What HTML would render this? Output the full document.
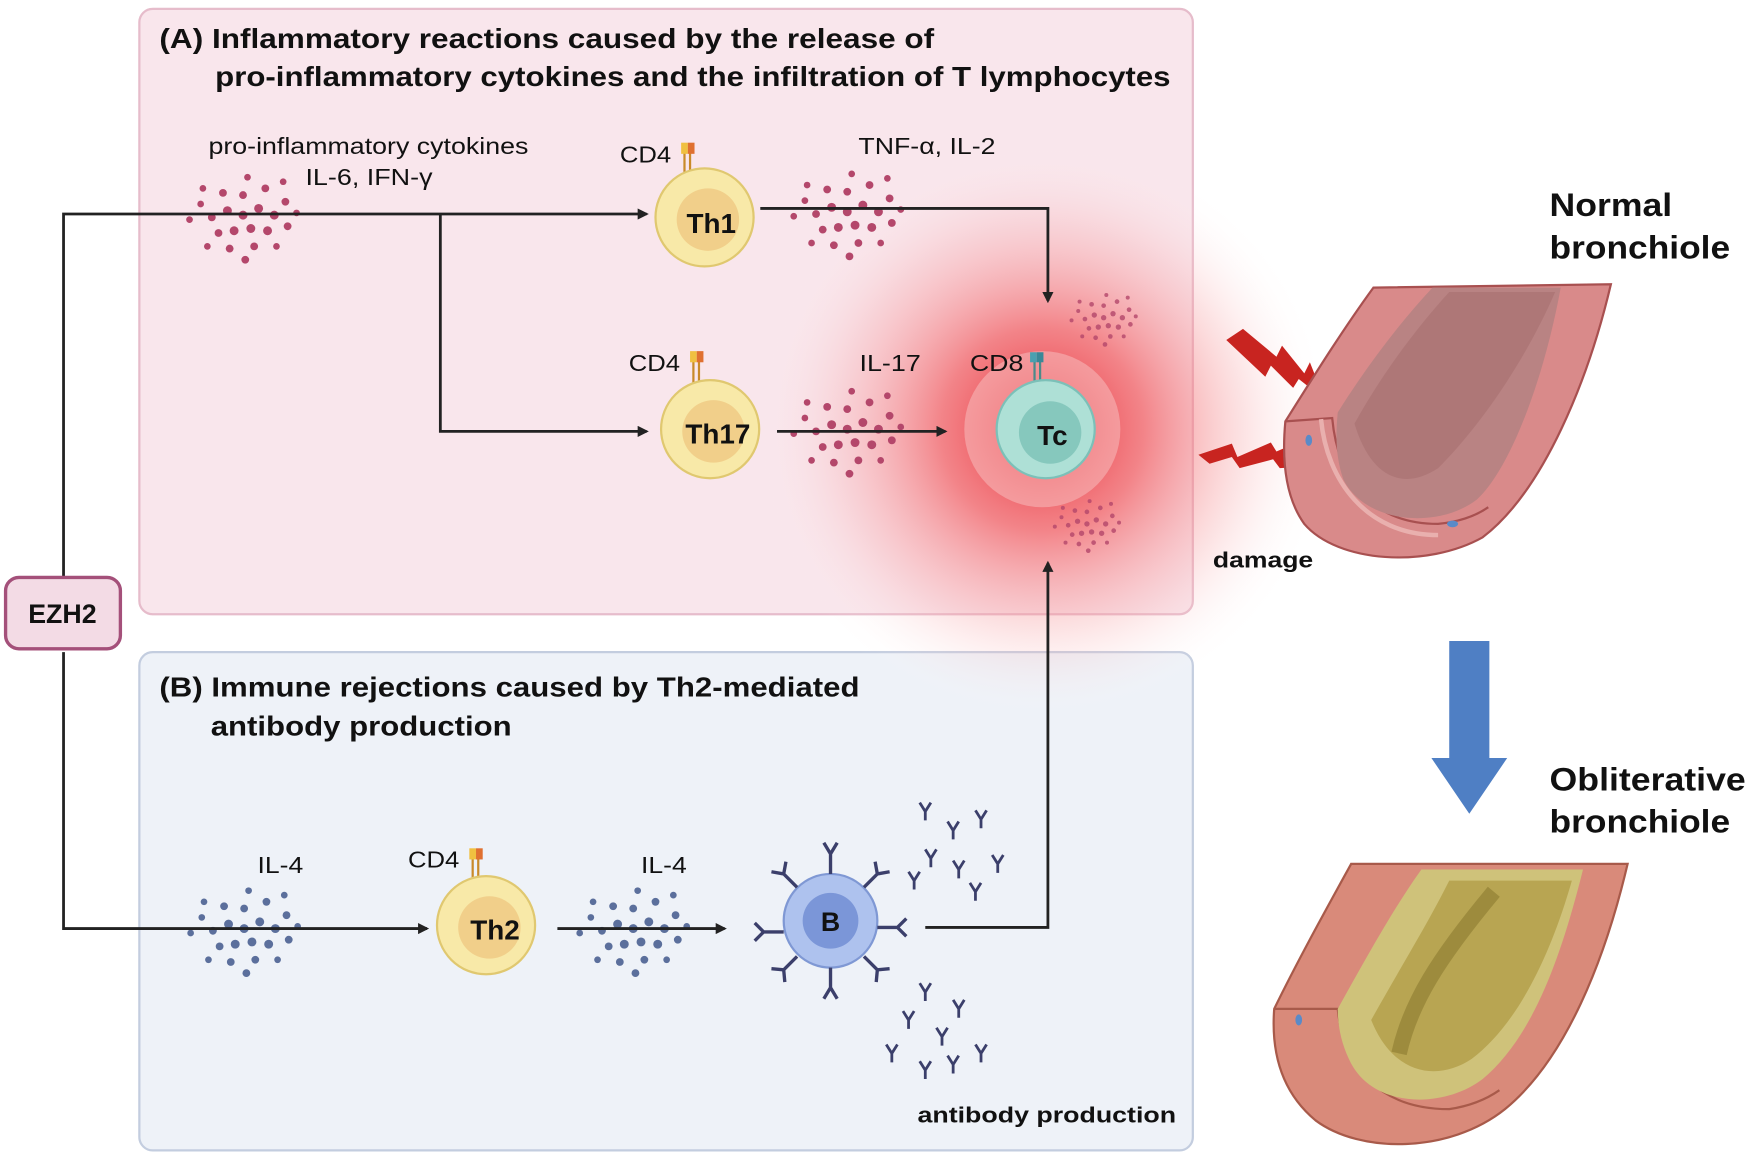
<!DOCTYPE html>
<html><head><meta charset="utf-8"><style>
html,body{margin:0;padding:0;background:#fff;}
svg{display:block;}
text{font-family:"Liberation Sans",Arial,sans-serif;}
</style></head><body>
<svg width="1748" height="1166" viewBox="0 0 1568 1046" preserveAspectRatio="none" xmlns="http://www.w3.org/2000/svg">
<defs>
<radialGradient id="glow" cx="50%" cy="50%" r="50%">
<stop offset="0" stop-color="#e8202a" stop-opacity="0.95"/>
<stop offset="0.35" stop-color="#f05a5e" stop-opacity="0.7"/>
<stop offset="0.7" stop-color="#f7a5a8" stop-opacity="0.3"/>
<stop offset="1" stop-color="#fff" stop-opacity="0"/>
</radialGradient>
<marker id="ar" markerWidth="10" markerHeight="10" refX="8" refY="5" orient="auto" markerUnits="userSpaceOnUse">
<path d="M0,0 L10,5 L0,10 z" fill="#222"/></marker>
<g id="cyt">
<circle cx="0" cy="0" r="4"/><circle cx="14" cy="-6" r="4"/><circle cx="28" cy="0" r="4"/><circle cx="-14" cy="-4" r="4"/>
<circle cx="-28" cy="2" r="3.5"/><circle cx="7" cy="12" r="4"/><circle cx="22" cy="14" r="4"/><circle cx="-8" cy="14" r="4"/>
<circle cx="-22" cy="16" r="3.5"/><circle cx="38" cy="-12" r="3.5"/><circle cx="0" cy="-18" r="3.5"/><circle cx="-18" cy="-20" r="3.5"/>
<circle cx="20" cy="-24" r="3.5"/><circle cx="40" cy="10" r="3.5"/><circle cx="-38" cy="-10" r="3"/><circle cx="-36" cy="-24" r="3"/>
<circle cx="36" cy="-30" r="3"/><circle cx="10" cy="28" r="3.5"/><circle cx="-12" cy="30" r="3.5"/><circle cx="30" cy="28" r="3"/>
<circle cx="-32" cy="28" r="3"/><circle cx="48" cy="-2" r="3"/><circle cx="-48" cy="4" r="3"/><circle cx="2" cy="40" r="3.5"/>
<circle cx="4" cy="-34" r="3"/>
</g>
<g id="ab" stroke="#3b3f6b" stroke-width="2.5" fill="none"><path d="M0,0 V8 M0,0 L-5,-8 M0,0 L5,-8"/></g>
</defs>
<rect x="0" y="0" width="1568" height="1046" fill="#fff"/>
<rect x="125" y="8" width="945" height="543" rx="12" fill="#f9e6ec" stroke="#e6bccb" stroke-width="2"/>
<rect x="125" y="585" width="945" height="447" rx="12" fill="#eef2f8" stroke="#c3cddf" stroke-width="2"/>
<circle cx="935" cy="385" r="260" fill="url(#glow)"/>
<circle cx="935" cy="385" r="70" fill="#f7c4c4" opacity="0.5"/>
<g font-weight="bold" fill="#111" font-size="25">
<text x="143" y="43" textLength="695" lengthAdjust="spacingAndGlyphs">(A)  Inflammatory reactions caused by the release of</text>
<text x="193" y="77" textLength="857" lengthAdjust="spacingAndGlyphs">pro-inflammatory cytokines and the infiltration of T lymphocytes</text>
<text x="143" y="625" textLength="628" lengthAdjust="spacingAndGlyphs">(B) Immune rejections caused by Th2-mediated</text>
<text x="189" y="660" textLength="270" lengthAdjust="spacingAndGlyphs">antibody production</text>
</g>
<g font-size="21" fill="#111" lengthAdjust="spacingAndGlyphs">
<text x="187" y="138" textLength="287" lengthAdjust="spacingAndGlyphs">pro-inflammatory cytokines</text>
<text x="274" y="166" textLength="114" lengthAdjust="spacingAndGlyphs">IL-6, IFN-γ</text>
<text x="770" y="138" textLength="123" lengthAdjust="spacingAndGlyphs">TNF-α, IL-2</text>
<text x="556" y="146" textLength="46" lengthAdjust="spacingAndGlyphs">CD4</text>
<text x="564" y="333" textLength="46" lengthAdjust="spacingAndGlyphs">CD4</text>
<text x="771" y="333" textLength="55" lengthAdjust="spacingAndGlyphs">IL-17</text>
<text x="870" y="333" textLength="48" lengthAdjust="spacingAndGlyphs">CD8</text>
<text x="231" y="783" textLength="41" lengthAdjust="spacingAndGlyphs">IL-4</text>
<text x="366" y="778" textLength="46" lengthAdjust="spacingAndGlyphs">CD4</text>
<text x="575" y="783" textLength="41" lengthAdjust="spacingAndGlyphs">IL-4</text>
</g>
<text x="1088" y="509" font-size="20" font-weight="bold" fill="#111" textLength="90" lengthAdjust="spacingAndGlyphs">damage</text>
<text x="823" y="1007" font-size="20" font-weight="bold" fill="#111" textLength="232" lengthAdjust="spacingAndGlyphs">antibody production</text>
<g font-size="29" font-weight="bold" fill="#111">
<text x="1390" y="194" textLength="110" lengthAdjust="spacingAndGlyphs">Normal</text>
<text x="1390" y="232" textLength="162" lengthAdjust="spacingAndGlyphs">bronchiole</text>
<text x="1390" y="709" textLength="176" lengthAdjust="spacingAndGlyphs">Obliterative</text>
<text x="1390" y="747" textLength="162" lengthAdjust="spacingAndGlyphs">bronchiole</text>
</g>
<g fill="#b4476b"><use href="#cyt" x="218" y="193"/><use href="#cyt" x="760" y="190"/><use href="#cyt" x="760" y="385"/></g>
<g fill="#b4476b" opacity="0.8"><use href="#cyt" x="990" y="285" transform="translate(990 285) scale(0.6) translate(-990 -285)"/><use href="#cyt" x="975" y="470" transform="translate(975 470) scale(0.6) translate(-975 -470)"/></g>
<g fill="#5b6f9c"><use href="#cyt" x="219" y="833"/><use href="#cyt" x="568" y="833"/></g>
<g stroke="#222" stroke-width="2.5" fill="none">
<path d="M57,518 V192 H580" marker-end="url(#ar)"/>
<path d="M395,192 V387 H580" marker-end="url(#ar)"/>
<path d="M57,585 V833 H383" marker-end="url(#ar)"/>
<path d="M682,187 H940 V270" marker-end="url(#ar)"/>
<path d="M697,387 H848" marker-end="url(#ar)"/>
<path d="M500,833 H650" marker-end="url(#ar)"/>
<path d="M830,832 H940 V505" marker-end="url(#ar)"/>
</g>
<rect x="5" y="518" width="103" height="64" rx="12" fill="#f3dbe5" stroke="#a4507a" stroke-width="3"/>
<text x="56" y="559" font-size="24" font-weight="bold" text-anchor="middle" fill="#111">EZH2</text>
<g>
<g stroke="#c98a2a" stroke-width="2"><line x1="614" y1="135" x2="614" y2="160"/><line x1="619" y1="135" x2="619" y2="160"/></g>
<rect x="611" y="128" width="6" height="10" fill="#f0c040"/><rect x="617" y="128" width="6" height="10" fill="#e07030"/>
<circle cx="632" cy="195" r="44" fill="#f8e9a8" stroke="#e0c870" stroke-width="2"/><circle cx="635" cy="197" r="28" fill="#f1cf8a"/>
<text x="638" y="209" font-size="25" font-weight="bold" text-anchor="middle" fill="#111">Th1</text>
</g>
<g>
<g stroke="#c98a2a" stroke-width="2"><line x1="622" y1="322" x2="622" y2="350"/><line x1="627" y1="322" x2="627" y2="350"/></g>
<rect x="619" y="315" width="6" height="10" fill="#f0c040"/><rect x="625" y="315" width="6" height="10" fill="#e07030"/>
<circle cx="637" cy="385" r="44" fill="#f8e9a8" stroke="#e0c870" stroke-width="2"/><circle cx="640" cy="387" r="28" fill="#f1cf8a"/>
<text x="644" y="398" font-size="25" font-weight="bold" text-anchor="middle" fill="#111">Th17</text>
</g>
<g>
<g stroke="#c98a2a" stroke-width="2"><line x1="424" y1="768" x2="424" y2="795"/><line x1="429" y1="768" x2="429" y2="795"/></g>
<rect x="421" y="761" width="6" height="10" fill="#f0c040"/><rect x="427" y="761" width="6" height="10" fill="#e07030"/>
<circle cx="436" cy="830" r="44" fill="#f8e9a8" stroke="#e0c870" stroke-width="2"/><circle cx="439" cy="832" r="28" fill="#f1cf8a"/>
<text x="444" y="843" font-size="25" font-weight="bold" text-anchor="middle" fill="#111">Th2</text>
</g>
<g>
<g stroke="#4a8a8a" stroke-width="2"><line x1="928" y1="322" x2="928" y2="355"/><line x1="933" y1="322" x2="933" y2="355"/></g>
<rect x="924" y="316" width="6" height="9" fill="#4aa0b0"/><rect x="930" y="316" width="6" height="9" fill="#3a8898"/>
<circle cx="938" cy="385" r="44" fill="#aee0d6" stroke="#7cc0b8" stroke-width="2"/><circle cx="942" cy="388" r="28" fill="#86c8bd"/>
<text x="944" y="399" font-size="25" font-weight="bold" text-anchor="middle" fill="#111">Tc</text>
</g>
<g>
<circle cx="745" cy="826" r="42" fill="#aec2ee" stroke="#7f98d4" stroke-width="2"/><circle cx="745" cy="826" r="25" fill="#7b96d8"/>
<text x="745" y="835" font-size="24" font-weight="bold" text-anchor="middle" fill="#111">B</text>
<g stroke="#3b3f6b" stroke-width="3" fill="none">
<path d="M745,784 V766 M745,766 l-6,-10 M745,766 l6,-10"/>
<path d="M775,796 l12,-12 m0,0 l-2,-11 m2,11 l11,-2"/>
<path d="M715,796 l-12,-12 m0,0 l2,-11 m-2,11 l-11,-2"/>
<path d="M703,836 l-18,0 m0,0 l-8,-8 m8,8 l-8,8"/>
<path d="M787,832 l18,0 m0,0 l8,-8 m-8,8 l8,8"/>
<path d="M715,858 l-12,12 m0,0 l-11,-1 m11,1 l1,11"/>
<path d="M775,858 l12,12 m0,0 l11,-1 m-11,1 l-1,11"/>
<path d="M745,868 v18 m0,0 l-6,10 m6,-10 l6,10"/>
</g>
<g>
<use href="#ab" x="830" y="728"/><use href="#ab" x="855" y="745"/><use href="#ab" x="880" y="735"/><use href="#ab" x="835" y="770"/>
<use href="#ab" x="860" y="780"/><use href="#ab" x="895" y="775"/><use href="#ab" x="820" y="790"/><use href="#ab" x="875" y="800"/>
<use href="#ab" x="830" y="890"/><use href="#ab" x="860" y="905"/><use href="#ab" x="815" y="915"/><use href="#ab" x="845" y="930"/>
<use href="#ab" x="880" y="945"/><use href="#ab" x="800" y="945"/><use href="#ab" x="830" y="960"/><use href="#ab" x="855" y="955"/>
</g>
</g>
<!-- lightning -->
<path d="M1225,0" />
<path d="M1225,305 Z" />
<path d="M1225,300" />
<path d="M1225,300 Z" />
<path d="M1225,300" />
<path d="M1225,300" />
<path d="M1225,300" />
<path d="M1225,300" />
<path d="M1225,300" />
<path d="M1225,300" />
<path d="M1225,300" />
<path d="M1100,305 L1115,295 L1145,320 L1150,310 L1170,335 L1175,325 L1188,358 L1165,340 L1160,348 L1140,328 L1135,338 Z" fill="#c82420"/>
<path d="M1075,408 L1105,398 L1110,410 L1140,397 L1145,405 L1180,390 L1175,402 L1180,392 L1182,418 L1148,420 L1142,412 L1112,420 L1105,410 L1085,416 Z" fill="#c82420"/>
<path d="M1075,410 L1100,400" />
<!-- normal bronchiole -->
<path d="M1232,258 L1445,255 C1425,340 1385,440 1330,482 C1280,510 1200,505 1170,470 C1152,445 1150,410 1153,378 C1180,335 1205,295 1232,258 Z" fill="#d98a8a" stroke="#a85050" stroke-width="2"/>
<path d="M1153,378 L1195,375 C1200,430 1230,470 1290,470 C1310,468 1325,462 1335,455" fill="none" stroke="#a85050" stroke-width="2"/>
<path d="M1185,376 C1190,430 1225,480 1290,480" fill="none" stroke="#e9b0ae" stroke-width="4"/>
<path d="M1200,370 C1225,330 1255,290 1285,258 L1400,258 C1385,340 1355,420 1325,448 C1290,475 1225,470 1205,430 C1198,410 1198,390 1200,370 Z" fill="#b98383"/>
<path d="M1215,380 C1240,335 1270,295 1300,262 L1395,262 C1370,320 1330,380 1290,420 C1260,440 1230,430 1215,380 Z" fill="#a67070" opacity="0.6"/>
<ellipse cx="1174" cy="395" rx="3" ry="5" fill="#5a8ac8"/><ellipse cx="1303" cy="470" rx="5" ry="3" fill="#5a8ac8"/>
<!-- blue arrow -->
<path d="M1300,575 H1336 V680 H1352 L1318,730 L1284,680 H1300 Z" fill="#4f7fc4"/>
<!-- obliterative bronchiole -->
<path d="M1212,775 L1460,775 C1440,860 1405,950 1350,995 C1300,1035 1220,1035 1180,1005 C1150,980 1140,945 1143,905 C1165,860 1190,815 1212,775 Z" fill="#d98a7a" stroke="#a85a4a" stroke-width="2"/>
<path d="M1143,905 L1200,905 C1205,960 1240,995 1300,995 C1320,992 1335,985 1345,978" fill="none" stroke="#a85a4a" stroke-width="2"/>
<path d="M1200,905 C1225,860 1250,815 1275,780 L1420,780 C1400,860 1375,930 1330,968 C1295,995 1230,995 1210,950 C1203,935 1200,920 1200,905 Z" fill="#cfc27a"/>
<path d="M1230,915 C1255,870 1280,830 1300,790 L1410,790 C1390,860 1360,920 1320,950 C1290,970 1250,965 1230,915 Z" fill="#b8a552"/>
<path d="M1255,945 C1265,900 1290,860 1340,800" stroke="#8a7a30" stroke-width="14" fill="none" opacity="0.6"/>
<ellipse cx="1165" cy="915" rx="3" ry="5" fill="#5a8ac8"/>
</svg>
</body></html>
